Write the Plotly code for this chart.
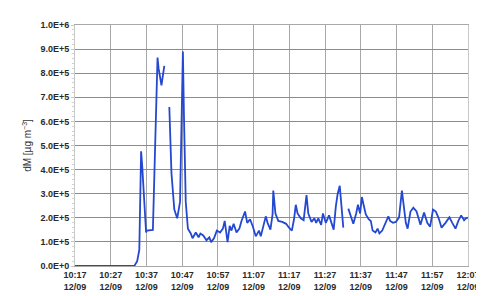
import pandas as pd
import plotly.graph_objects as go

# minutes after 10:17 on 12/09, and dM values (units of 1e5 µg m^-3); None = gap
minutes = [0, 16.6, 17.4, 18.0, 18.5, 18.8, 19.9, 20.1, 21.8, 22.6, 23.1, 23.4, 24.2, 25.0,
           25.7,
           26.4, 27.0, 27.8, 28.6, 29.4, 29.9, 30.2, 30.5, 31.0, 31.6, 32.4, 32.9, 33.8, 34.6,
           35.1, 35.9, 36.8, 37.6, 38.1, 38.9, 39.7, 40.6, 41.4, 41.9, 42.5, 42.7, 43.3, 43.8,
           44.4, 45.2, 46.0, 46.6, 47.6, 48.2, 49.0, 49.8, 50.6, 51.5, 52.0, 52.8, 53.4, 53.9,
           54.7, 55.3, 55.5, 56.1, 56.9, 58.0, 59.1, 59.9, 60.7, 61.3, 61.8, 62.3, 63.2, 64.0,
           64.8, 65.3, 66.2, 67.0, 67.5, 68.1, 68.9, 69.4, 70.2, 71.1, 71.6, 72.4, 73.0, 73.5,
           74.1, 74.6, 75.1,
           75.8,
           76.5, 77.3, 77.9, 78.7, 79.2, 79.8, 80.3, 80.9, 81.4, 82.2, 82.8, 83.3, 84.1, 84.7,
           85.2, 86.0, 86.9, 87.7, 88.2, 89.0, 89.8, 90.7, 91.5, 92.0, 92.6, 93.1, 93.9, 94.7,
           95.6, 96.7, 97.7, 98.6, 99.4, 100.2, 101.0, 101.8, 102.6, 103.7, 104.8, 105.6,
           106.5, 107.3, 108.1, 108.9, 109.4, 110.3]
dm_e5 = [0, 0, 0.2, 0.67, 4.76, 4.17, 1.39, 1.47, 1.5, 5.8, 8.65, 8.2, 7.5, 8.3,
         None,
         6.6, 3.85, 2.34, 1.98, 2.66, 5.8, 8.9, 6.2, 2.66, 1.55, 1.35, 1.15, 1.39, 1.19,
         1.35, 1.27, 1.07, 1.19, 0.99, 1.15, 1.47, 1.39, 1.55, 1.87, 1.19, 0.99, 1.67, 1.47,
         1.75, 1.39, 1.55, 1.87, 2.26, 1.79, 1.94, 1.63, 1.23, 1.47, 1.23, 1.67, 2.06, 1.79,
         1.51, 2.14, 3.13, 2.18, 1.87, 1.83, 1.75, 1.59, 1.47, 1.94, 2.54, 2.18, 1.98, 1.90,
         2.94, 2.18, 1.83, 1.98, 1.79, 1.98, 1.71, 2.18, 1.79, 2.10, 1.87, 1.51, 2.46, 2.98,
         3.33, 2.34, 1.59,
         None,
         2.38, 1.98, 1.75, 2.18, 2.54, 2.18, 2.86, 2.46, 2.14, 1.94, 1.87, 1.47, 1.39, 1.55,
         1.35, 1.47, 1.75, 2.06, 1.87, 1.79, 1.83, 2.02, 3.13, 2.38, 1.79, 1.55, 2.26, 2.42,
         2.26, 1.71, 2.22, 1.79, 1.63, 2.34, 2.26, 1.98, 1.59, 1.79, 2.02, 1.79,
         1.55, 1.87, 2.10, 1.90, 1.98, 2.02]

y_tickvals = [0, 1e5, 2e5, 3e5, 4e5, 5e5, 6e5, 7e5, 8e5, 9e5, 1e6]
y_ticktext = ["0.0E+0", "1.0E+5", "2.0E+5", "3.0E+5", "4.0E+5", "5.0E+5",
              "6.0E+5", "7.0E+5", "8.0E+5", "9.0E+5", "1.0E+6"]
x_tick_minutes = [0, 10, 20, 30, 40, 50, 60, 70, 80, 90, 100, 110]
x_ticktext = ["10:17<br>12/09", "10:27<br>12/09", "10:37<br>12/09", "10:47<br>12/09",
              "10:57<br>12/09", "11:07<br>12/09", "11:17<br>12/09", "11:27<br>12/09",
              "11:37<br>12/09", "11:47<br>12/09", "11:57<br>12/09", "12:07<br>12/09"]

start = pd.Timestamp("2009-12-09 10:17:00")
x = [start + pd.Timedelta(minutes=m) for m in minutes]
y = [None if v is None else v * 1e5 for v in dm_e5]
x_tickvals = [start + pd.Timedelta(minutes=m) for m in x_tick_minutes]

fig = go.Figure()
fig.add_trace(go.Scatter(x=x, y=y, mode="lines", connectgaps=False,
                         line=dict(color="#2448d0", width=1.8), showlegend=False))

font = dict(family="Liberation Sans, Arial, sans-serif", color="#333333")
tickfont = dict(family="Liberation Sans, Arial, sans-serif", size=9, color="#2a2a2a")
fig.update_layout(
    width=484, height=296,
    margin=dict(l=67, r=13, t=15, b=29),
    paper_bgcolor="white", plot_bgcolor="white",
    font=font,
    xaxis=dict(
        type="date",
        range=[start, start + pd.Timedelta(minutes=110)],
        tickmode="array", tickvals=x_tickvals,
        ticktext=["<b>" + t.replace("<br>", "</b><br><b>") + "</b>" for t in x_ticktext],
        tickfont=tickfont,
        showgrid=True, gridcolor="#a8a8a8", gridwidth=1.2,
        showline=True, linecolor="#a8a8a8", mirror=True,
        ticks="", zeroline=False,
    ),
    yaxis=dict(
        range=[0, 1e6],
        tickmode="array", tickvals=y_tickvals,
        ticktext=["<b>" + t + "</b>" for t in y_ticktext],
        tickfont=tickfont,
        showgrid=True, gridcolor="#8c8c8c", gridwidth=1.2,
        showline=True, linecolor="#c8c8c8", mirror=True,
        ticks="outside", ticklen=3, tickcolor="#c8c8c8",
        minor=dict(ticks="outside", ticklen=2, tickcolor="#d0d0d0", dtick=20000, showgrid=False),
        zeroline=False,
        title=dict(text="dM [µg m<sup>−3</sup>]", font=dict(size=10, color="#333333"), standoff=6),
    ),
)

fig.write_html("out.html")
